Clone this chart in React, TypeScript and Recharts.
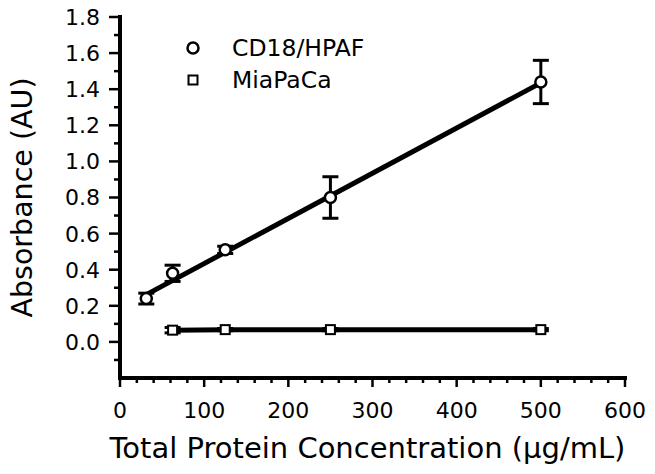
import React from "react";
import { ComposedChart, Line, Scatter, XAxis, YAxis, ErrorBar, Legend } from "recharts";

const FONT = "'DejaVu Sans', Verdana, sans-serif";

// CD18/HPAF: mean absorbance with error
const hpafConc = [31.25, 62.5, 125, 250, 500];
const hpafAbs = [0.24, 0.38, 0.51, 0.8, 1.44];
const hpafErr = [0.03, 0.045, 0.02, 0.115, 0.12];
// linear fit, end points
const hpafFitConc = [31.25, 500];
const hpafFitAbs = [0.262, 1.435];

// MiaPaCa
const miaConc = [62.5, 125, 250, 500];
const miaAbs = [0.065, 0.068, 0.068, 0.068];
const miaErr = [0.015, 0.006, 0.006, 0.006];

const seriesNames = ["CD18/HPAF", "MiaPaCa"];

const xTicks = [
  0, 20, 40, 60, 80, 100, 120, 140, 160, 180, 200, 220, 240, 260, 280, 300,
  320, 340, 360, 380, 400, 420, 440, 460, 480, 500, 520, 540, 560, 580, 600,
];
const yTicks = [
  -0.1, 0, 0.1, 0.2, 0.3, 0.4, 0.5, 0.6, 0.7, 0.8, 0.9, 1.0, 1.1, 1.2, 1.3,
  1.4, 1.5, 1.6, 1.7, 1.8,
];

const hpafData = hpafConc.map((x, i) => ({ x, y: hpafAbs[i], err: hpafErr[i] }));
const hpafFit = hpafFitConc.map((x, i) => ({ x, y: hpafFitAbs[i] }));
const miaData = miaConc.map((x, i) => ({ x, y: miaAbs[i], err: miaErr[i] }));

function XTick(props: any) {
  const { x, y, payload } = props;
  const v = payload.value;
  const major = v % 100 === 0;
  return (
    <g>
      <line x1={x} x2={x} y1={y} y2={y + (major ? 9 : 5)} stroke="#000" strokeWidth={2.5} />
      {major && (
        <text x={x} y={y + 40} textAnchor="middle" fontSize={22} fontFamily={FONT} fill="#000">
          {v}
        </text>
      )}
    </g>
  );
}

function YTick(props: any) {
  const { x, y, payload } = props;
  const v = payload.value;
  const major = Math.round(v * 10) % 2 === 0;
  return (
    <g>
      <line x1={x} x2={x - (major ? 11 : 6)} y1={y} y2={y} stroke="#000" strokeWidth={2.5} />
      {major && (
        <text x={x - 20} y={y} dy="0.36em" textAnchor="end" fontSize={22} fontFamily={FONT} fill="#000">
          {v.toFixed(1)}
        </text>
      )}
    </g>
  );
}

const Circle = (p: any) => (
  <circle cx={p.cx} cy={p.cy} r={5.5} fill="#fff" stroke="#000" strokeWidth={2.5} />
);
const Square = (p: any) => (
  <rect x={p.cx - 4.5} y={p.cy - 4.5} width={9} height={9} fill="#fff" stroke="#000" strokeWidth={2} />
);

function LegendBox() {
  return (
    <div style={{ fontFamily: FONT, fontSize: 23.5, color: "#000" }}>
      {seriesNames.map((name, i) => (
        <div key={name} style={{ display: "flex", alignItems: "center", height: 32 }}>
          <svg width={20} height={20}>
            {i === 0 ? <Circle cx={10} cy={10} /> : <Square cx={10} cy={10} />}
          </svg>
          <span style={{ marginLeft: 29, lineHeight: "32px" }}>{name}</span>
        </div>
      ))}
    </div>
  );
}

export default function App() {
  return (
    <div style={{ marginLeft: -4, marginTop: -4 }}>
      <ComposedChart
        width={648}
        height={466}
        margin={{ top: 13, right: 27, bottom: 0, left: 4 }}
        style={{ fontFamily: FONT }}
      >
        <XAxis
          type="number"
          dataKey="x"
          domain={[0, 600]}
          ticks={xTicks}
          interval={0}
          height={92}
          tickSize={0}
          tickMargin={0}
          tickLine={false}
          tick={<XTick />}
          axisLine={{ stroke: "#000", strokeWidth: 4, strokeLinecap: "square" }}
          label={{
            content: (p: any) => (
              <text
                x={p.viewBox.x + p.viewBox.width / 2 - 5}
                y={454}
                textAnchor="middle"
                fontSize={29}
                fontFamily={FONT}
                fill="#000"
              >
                Total Protein Concentration (μg/mL)
              </text>
            ),
          }}
        />
        <YAxis
          type="number"
          domain={[-0.2, 1.8]}
          ticks={yTicks}
          interval={0}
          width={112}
          tickSize={0}
          tickMargin={0}
          tickLine={false}
          tick={<YTick />}
          axisLine={{ stroke: "#000", strokeWidth: 4, strokeLinecap: "square" }}
          label={{
            content: (p: any) => (
              <text
                x={28}
                y={p.viewBox.y + p.viewBox.height / 2}
                transform={`rotate(-90 28 ${p.viewBox.y + p.viewBox.height / 2})`}
                textAnchor="middle"
                fontSize={28.5}
                fontFamily={FONT}
                fill="#000"
              >
                Absorbance (AU)
              </text>
            ),
          }}
        />
        <Legend
          layout="vertical"
          align="center"
          verticalAlign="middle"
          content={<LegendBox />}
          wrapperStyle={{ top: 28, left: 179, width: "auto" }}
        />
        <Line
          data={hpafFit}
          dataKey="y"
          stroke="#000"
          strokeWidth={5}
          dot={false}
          legendType="none"
          isAnimationActive={false}
        />
        <Line
          data={miaData}
          dataKey="y"
          stroke="#000"
          strokeWidth={5}
          dot={false}
          legendType="none"
          isAnimationActive={false}
        />
        <Scatter name={seriesNames[0]} data={hpafData} dataKey="y" shape={Circle} isAnimationActive={false}>
          <ErrorBar dataKey="err" direction="y" width={8} stroke="#000" strokeWidth={3} isAnimationActive={false} />
        </Scatter>
        <Scatter name={seriesNames[1]} data={miaData} dataKey="y" shape={Square} isAnimationActive={false}>
          <ErrorBar dataKey="err" direction="y" width={8} stroke="#000" strokeWidth={3} isAnimationActive={false} />
        </Scatter>
      </ComposedChart>
    </div>
  );
}
